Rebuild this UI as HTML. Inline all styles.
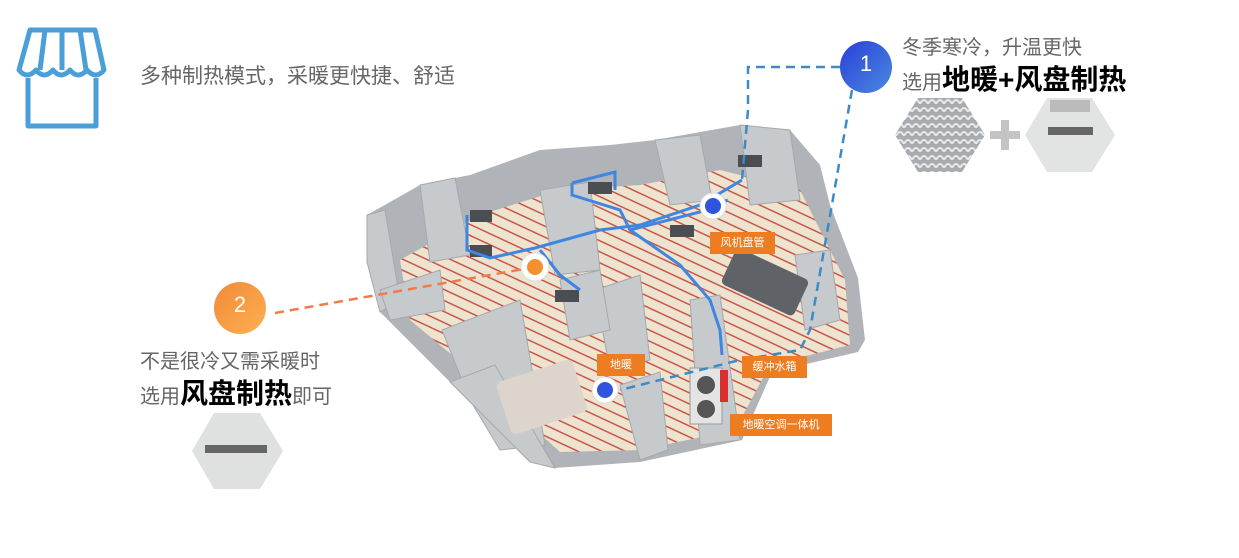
<!DOCTYPE html>
<html><head><meta charset="utf-8"><style>
body{margin:0;width:1239px;height:558px;background:#fff;overflow:hidden;position:relative;font-family:"Liberation Sans","Noto Sans CJK SC",sans-serif}
.t{position:absolute;white-space:nowrap}
.lab{position:absolute;background:#ee7d22;color:#fff;font-size:11px;line-height:22px;text-align:center}
</style></head><body>
<svg width="1239" height="558" style="position:absolute;left:0;top:0">
<defs>
<linearGradient id="bg1" x1="0" y1="0" x2="1" y2="1"><stop offset="0" stop-color="#2a3fd8"/><stop offset="1" stop-color="#4a8ae0"/></linearGradient>
<linearGradient id="og" x1="0" y1="0" x2="1" y2="1"><stop offset="0" stop-color="#f08a3a"/><stop offset="1" stop-color="#ffb050"/></linearGradient>
<pattern id="pipe" width="10" height="10" patternUnits="userSpaceOnUse" patternTransform="rotate(25)"><rect width="10" height="10" fill="#ede3cf"/><rect y="4" width="10" height="1.5" fill="#c8564a"/></pattern>
<pattern id="hx1" width="8" height="8" patternUnits="userSpaceOnUse"><rect width="8" height="8" fill="#a8acb0"/><path d="M0 8 Q4 0 8 8" stroke="#e8e8e8" stroke-width="2" fill="none"/></pattern>
</defs>
<g fill="none" stroke="#4a9fd8" stroke-width="5" stroke-linejoin="round">
<path d="M30 30 H95 L104 70 Q96 80 87 70 Q78 80 70 70 Q61 80 53 70 Q44 80 36 70 Q27 80 19 70 Z"/>
<path d="M28 78 V126 H96 V78"/>
<path d="M45 30 L40 70 M62 30 V70 M80 30 L86 70"/>
</g>
<polygon points="367,215 420,185 470,175 540,150 610,145 655,140 740,125 790,130 820,165 830,205 858,278 865,340 858,352 772,372 742,440 640,462 555,468 450,382 380,312 367,262" fill="#b0b3b7"/>
<polygon points="400,260 480,215 560,190 640,185 720,170 800,190 845,280 850,345 770,365 735,430 640,450 560,452 470,370 410,320" fill="url(#pipe)"/>
<g fill="#c7cacd" stroke="#a5a8ac">
<polygon points="367,215 385,210 400,300 380,312 367,262"/>
<polygon points="420,185 455,178 470,255 430,262"/>
<polygon points="442,330 520,300 545,445 500,450 470,400"/>
<polygon points="450,382 495,365 555,468 530,462"/>
<polygon points="540,190 590,182 600,270 555,275"/>
<polygon points="595,290 640,275 650,360 610,370"/>
<polygon points="655,140 700,135 712,200 670,205"/>
<polygon points="740,125 790,130 800,200 750,205"/>
<polygon points="795,255 830,250 840,320 805,330"/>
<polygon points="620,385 660,372 668,450 640,460"/>
<polygon points="690,300 720,295 740,440 700,445"/>
<polygon points="380,290 440,270 445,310 390,320"/>
<polygon points="560,280 600,270 610,330 570,340"/>
</g>
<rect x="502" y="370" width="80" height="55" rx="6" fill="#ddd4cc" transform="rotate(-18 540 398)"/>
<rect x="725" y="262" width="80" height="40" rx="5" fill="#5f6266" transform="rotate(25 765 282)"/>
<rect x="690" y="368" width="32" height="56" fill="#e4e4e4" stroke="#999"/>
<circle cx="706" cy="385" r="9" fill="#555"/><circle cx="706" cy="409" r="9" fill="#555"/>
<rect x="720" y="370" width="8" height="32" fill="#d83030"/>
<g fill="#4a4d52"><rect x="470" y="210" width="22" height="12"/><rect x="588" y="182" width="24" height="12"/><rect x="470" y="245" width="22" height="12"/><rect x="555" y="290" width="24" height="12"/><rect x="670" y="225" width="24" height="12"/><rect x="738" y="155" width="24" height="12"/></g>
<g fill="none" stroke="#3f86e0" stroke-width="3">
<path d="M467 215 V250 L490 258 L535 248 L600 230 L640 225 L700 205 L742 180"/>
<path d="M572 183 V195 L620 210 L630 230 L680 265 L710 300 L720 330 L722 355"/>
<path d="M540 250 L560 275 L580 290"/>
<path d="M572 183 L615 172 L615 190"/>
<path d="M630 230 L700 212 L728 200"/>
</g>
<g fill="none" stroke="#3a8bc8" stroke-width="2.5" stroke-dasharray="9,6">
<path d="M840 67 H748 V110 L742 180"/>
<path d="M852 90 L810 330 L800 350 L740 360 L620 390"/>
</g>
<path d="M275 313 L535 267" stroke="#f07a4a" stroke-width="2.5" stroke-dasharray="9,6" fill="none"/>
<circle cx="713" cy="206" r="13" fill="#fff" stroke="#ddd"/><circle cx="713" cy="206" r="8" fill="#2f55e0"/>
<circle cx="535" cy="267" r="14" fill="#fff" stroke="#ddd"/><circle cx="535" cy="267" r="8" fill="#f5902e"/>
<circle cx="605" cy="390" r="13" fill="#fff" stroke="#ddd"/><circle cx="605" cy="390" r="8" fill="#2f55e0"/>
<circle cx="866" cy="67" r="26" fill="url(#bg1)"/>
<circle cx="240" cy="308" r="26" fill="url(#og)"/>
<polygon points="918,98 962,98 985,135 962,172 918,172 895,135" fill="url(#hx1)"/>
<polygon points="1047,98 1092,98 1115,135 1092,172 1047,172 1025,135" fill="#e2e4e3"/>
<rect x="1048" y="127" width="45" height="8" fill="#666"/>
<rect x="1050" y="100" width="40" height="12" fill="#bbb"/>
<path d="M1005 120 V150 M990 135 H1020" stroke="#c4c4c4" stroke-width="8"/>
<polygon points="214,413 260,413 283,451 260,489 214,489 192,451" fill="#dfe1e0"/>
<rect x="205" y="445" width="62" height="8" fill="#666"/>
</svg>
<div class="t" style="left:140px;top:60px;font-size:21px;color:#666">多种制热模式，采暖更快捷、舒适</div>
<div class="t" style="left:855px;top:51px;width:22px;text-align:center;color:#fff;font-size:22px">1</div>
<div class="t" style="left:229px;top:292px;width:22px;text-align:center;color:#fff;font-size:22px">2</div>
<div class="t" style="left:902px;top:31px;font-size:20px;color:#666">冬季寒冷，升温更快</div>
<div class="t" style="left:902px;top:58px;font-size:20px;color:#666">选用<b style="font-size:28px;color:#000">地暖+风盘制热</b></div>
<div class="t" style="left:140px;top:345px;font-size:20px;color:#666">不是很冷又需采暖时</div>
<div class="t" style="left:140px;top:372px;font-size:20px;color:#666">选用<b style="font-size:28px;color:#000">风盘制热</b>即可</div>
<div class="lab" style="left:710px;top:232px;width:65px">风机盘管</div>
<div class="lab" style="left:597px;top:354px;width:48px">地暖</div>
<div class="lab" style="left:742px;top:356px;width:65px">缓冲水箱</div>
<div class="lab" style="left:730px;top:414px;width:102px">地暖空调一体机</div>
</body></html>
